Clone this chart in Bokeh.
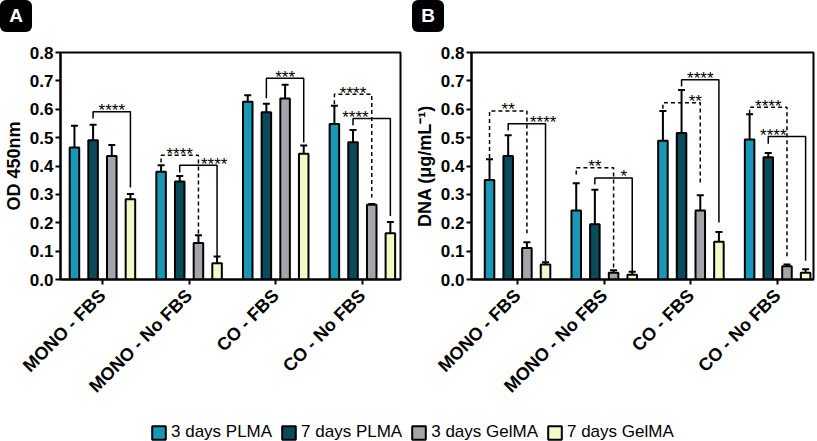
import numpy as np
from bokeh.plotting import figure
from bokeh.models import (ColumnDataSource, Whisker, TeeHead, FixedTicker, Range1d,
                          Legend, LegendItem, PrintfTickFormatter, Div)
from bokeh.layouts import column, row
from bokeh.embed import file_html
from bokeh.resources import INLINE
from bokeh.core.properties import value

# ---------------- data ----------------
categories = ["MONO - FBS", "MONO - No FBS", "CO - FBS", "CO - No FBS"]
series = ["3 days PLMA", "7 days PLMA", "3 days GelMA", "7 days GelMA"]
y_ticks = [0.0, 0.1, 0.2, 0.3, 0.4, 0.5, 0.6, 0.7, 0.8]

# Panel A: OD 450nm (mean, SD)
od_3d_plma = [0.465, 0.380, 0.626, 0.548]
od_7d_plma = [0.491, 0.345, 0.589, 0.484]
od_3d_gelma = [0.435, 0.129, 0.638, 0.263]
od_7d_gelma = [0.283, 0.057, 0.443, 0.163]
od_3d_plma_sd = [0.077, 0.023, 0.023, 0.064]
od_7d_plma_sd = [0.054, 0.020, 0.030, 0.043]
od_3d_gelma_sd = [0.039, 0.027, 0.048, 0.003]
od_7d_gelma_sd = [0.018, 0.024, 0.029, 0.040]

# Panel B: DNA (ug/mL) (mean, SD)
dna_3d_plma = [0.351, 0.243, 0.489, 0.493]
dna_7d_plma = [0.435, 0.195, 0.516, 0.431]
dna_3d_gelma = [0.111, 0.024, 0.243, 0.047]
dna_7d_gelma = [0.053, 0.017, 0.133, 0.024]
dna_3d_plma_sd = [0.073, 0.096, 0.105, 0.089]
dna_7d_plma_sd = [0.073, 0.121, 0.152, 0.015]
dna_3d_gelma_sd = [0.020, 0.009, 0.054, 0.006]
dna_7d_gelma_sd = [0.008, 0.010, 0.034, 0.012]

# significance brackets: group, from-bar, to-bar, top, left leg end, right leg end, dashed, stars
od_br_group = [0, 1, 1, 2, 3, 3]
od_br_from = [1, 0, 1, 1, 0, 1]
od_br_to = [3, 2, 3, 3, 2, 3]
od_br_top = [0.591, 0.438, 0.403, 0.709, 0.653, 0.567]
od_br_left = [0.567, 0.412, 0.377, 0.639, 0.618, 0.544]
od_br_right = [0.324, 0.160, 0.083, 0.483, 0.289, 0.224]
od_br_dashed = [False, True, False, False, True, False]
od_br_stars = ["****", "****", "****", "***", "****", "****"]
od_br_star_dx = [0.108, -0.108, 0.29, 0.108, -0.108, -0.08]

dna_br_group = [0, 0, 1, 1, 2, 2, 3, 3]
dna_br_from = [0, 1, 0, 1, 1, 0, 0, 1]
dna_br_to = [2, 3, 2, 3, 3, 2, 2, 3]
dna_br_top = [0.594, 0.549, 0.394, 0.358, 0.704, 0.623, 0.607, 0.504]
dna_br_left = [0.428, 0.525, 0.370, 0.335, 0.680, 0.602, 0.584, 0.478]
dna_br_right = [0.163, 0.064, 0.041, 0.029, 0.201, 0.335, 0.078, 0.066]
dna_br_dashed = [True, False, True, False, False, True, True, False]
dna_br_stars = ["**", "****", "**", "*", "****", "**", "****", "****"]
dna_br_star_dx = [-0.108, 0.296, -0.108, 0.227, 0.108, 0.05, -0.108, -0.05]

colors = ["#1898b5", "#0a4b5b", "#a4a5aa", "#f3f8c5"]
offsets = [-0.323, -0.108, 0.108, 0.323]
FONT = "Liberation Sans"
FRAME_H = 227
DIV_H = 34


def letter_div(letter, width, left):
    html = ('<div style="margin-left:%dpx;width:32px;height:32px;background:#000;'
            'border-radius:6px;color:#fff;font-family:\'Liberation Sans\',Arial,sans-serif;'
            'font-weight:bold;font-size:19px;line-height:32px;text-align:center;">%s</div>'
            % (left, letter))
    return Div(text=html, width=width, height=DIV_H, margin=0)


def make_panel(means, sds, br, ylabel, x_start, x_end, frame_w, b_left, b_right):
    p = figure(frame_width=frame_w, frame_height=FRAME_H,
               x_range=Range1d(x_start, x_end), y_range=Range1d(0, 0.8),
               toolbar_location=None, output_backend="svg",
               min_border_left=b_left, min_border_right=b_right,
               min_border_top=52 - DIV_H, min_border_bottom=108)
    p.grid.visible = False
    p.outline_line_color = "black"
    p.outline_line_width = 2
    p.background_fill_color = "white"

    for k in range(4):
        xs = [g + offsets[k] for g in range(len(categories))]
        src = ColumnDataSource(dict(x=xs, top=means[k],
                                    upper=[m + s for m, s in zip(means[k], sds[k])],
                                    lower=means[k]))
        p.vbar(x="x", top="top", width=0.11, source=src, fill_color=colors[k],
               line_color="black", line_width=2)
        w = Whisker(source=src, base="x", upper="upper", lower="lower",
                    line_color="black", line_width=2,
                    upper_head=TeeHead(size=7, line_width=2, line_color="black"),
                    lower_head=None)
        p.add_layout(w)

    grp, bf, bt, top, le, re_, dashed, stars, sdx = br
    solid_xs, solid_ys, dash_xs, dash_ys = [], [], [], []
    for i in range(len(grp)):
        x0 = grp[i] + offsets[bf[i]]
        x1 = grp[i] + offsets[bt[i]]
        xs_ = [x0, x0, x1, x1]
        ys_ = [le[i], top[i], top[i], re_[i]]
        if dashed[i]:
            dash_xs.append(xs_); dash_ys.append(ys_)
        else:
            solid_xs.append(xs_); solid_ys.append(ys_)
    if solid_xs:
        p.multi_line(xs=solid_xs, ys=solid_ys, line_color="black", line_width=1.5)
    if dash_xs:
        p.multi_line(xs=dash_xs, ys=dash_ys, line_color="black", line_width=1.5,
                     line_dash="4 3")
    p.text(x=[grp[i] + sdx[i] for i in range(len(grp))], y=top, text=stars,
           text_align="center", text_baseline="middle", y_offset=-1,
           text_font=value(FONT), text_font_size="17px", text_color="black")

    # axes
    p.xaxis.ticker = FixedTicker(ticks=list(range(len(categories))))
    p.xaxis.major_label_overrides = {i: c for i, c in enumerate(categories)}
    p.xaxis.major_label_orientation = np.pi / 4
    p.yaxis.ticker = FixedTicker(ticks=y_ticks)
    p.yaxis.formatter = PrintfTickFormatter(format="%.1f")
    p.yaxis.axis_label = ylabel
    for ax in (p.xaxis, p.yaxis):
        ax.axis_line_width = 2
        ax.axis_line_color = "black"
        ax.major_tick_line_width = 2
        ax.major_tick_line_color = "black"
        ax.major_tick_out = 5
        ax.major_tick_in = 0
        ax.minor_tick_line_color = None
        ax.major_label_text_font = FONT
        ax.major_label_text_font_style = "bold"
        ax.major_label_text_color = "black"
    p.yaxis.major_label_text_font_size = "17px"
    p.xaxis.major_label_text_font_size = "18px"
    p.yaxis.major_label_standoff = 2
    p.xaxis.major_label_standoff = 8
    p.yaxis.axis_label_text_font = FONT
    p.yaxis.axis_label_text_font_style = "bold"
    p.yaxis.axis_label_text_font_size = "18px"
    p.yaxis.axis_label_text_color = "black"
    p.yaxis.axis_label_standoff = 3
    return p


od_means = [od_3d_plma, od_7d_plma, od_3d_gelma, od_7d_gelma]
od_sds = [od_3d_plma_sd, od_7d_plma_sd, od_3d_gelma_sd, od_7d_gelma_sd]
dna_means = [dna_3d_plma, dna_7d_plma, dna_3d_gelma, dna_7d_gelma]
dna_sds = [dna_3d_plma_sd, dna_7d_plma_sd, dna_3d_gelma_sd, dna_7d_gelma_sd]

pA = make_panel(od_means, od_sds,
                (od_br_group, od_br_from, od_br_to, od_br_top, od_br_left, od_br_right,
                 od_br_dashed, od_br_stars, od_br_star_dx),
                "OD 450nm", -0.484, 3.44, 340, 49, 11)
pB = make_panel(dna_means, dna_sds,
                (dna_br_group, dna_br_from, dna_br_to, dna_br_top, dna_br_left, dna_br_right,
                 dna_br_dashed, dna_br_stars, dna_br_star_dx),
                "DNA (\u03bcg/mL\u207b\u00b9)", -0.531, 3.414, 342, 57, 2)

# legend strip (glyph renderers hold no drawable data; they only style the legend keys)
pl = figure(width=801, height=38, toolbar_location=None, output_backend="svg",
            x_range=Range1d(0, 1), y_range=Range1d(0, 1), min_border=0)
pl.axis.visible = False
pl.grid.visible = False
pl.outline_line_color = None
rends = [pl.vbar(x=[0.5], top=[float("nan")], width=0.1, fill_color=c,
                 line_color="black", line_width=2)
         for c in colors]
leg = Legend(items=[LegendItem(label=s, renderers=[r]) for s, r in zip(series, rends)],
             orientation="horizontal", location=(150, 2),
             glyph_width=17, glyph_height=17, label_standoff=4, spacing=8,
             padding=0, margin=0, border_line_color=None, background_fill_alpha=0,
             label_text_font=FONT, label_text_font_size="17px", label_text_color="black")
pl.add_layout(leg, "center")

layout = column(row(column(letter_div("A", 400, 0), pA),
                    column(letter_div("B", 401, 1), pB)), pl)
open("out.html", "w").write(file_html(layout, INLINE))
